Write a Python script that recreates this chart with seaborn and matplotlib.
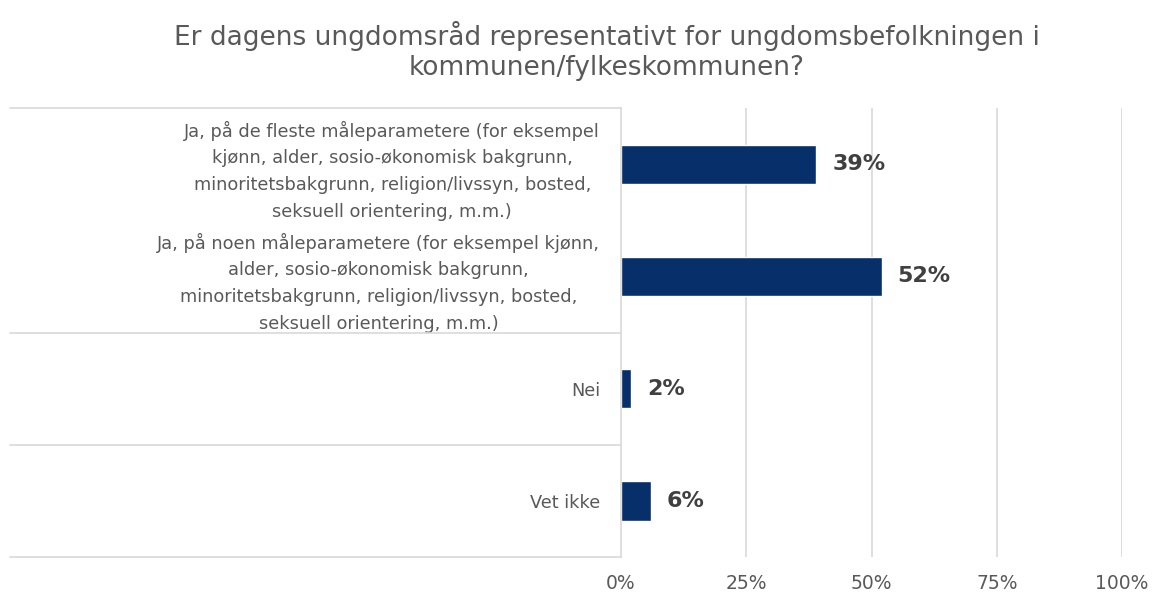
import matplotlib
matplotlib.use("Agg")
import matplotlib.pyplot as plt
import seaborn as sns
import pandas as pd

categories = [
    "Ja, på de fleste måleparametere (for eksempel\nkjønn, alder, sosio-økonomisk bakgrunn,\nminoritetsbakgrunn, religion/livssyn, bosted,\nseksuell orientering, m.m.)",
    "Ja, på noen måleparametere (for eksempel kjønn,\nalder, sosio-økonomisk bakgrunn,\nminoritetsbakgrunn, religion/livssyn, bosted,\nseksuell orientering, m.m.)",
    "Nei",
    "Vet ikke",
]
values = [39, 52, 2, 6]
tick_values = [0, 25, 50, 75, 100]
tick_labels = ["0%", "25%", "50%", "75%", "100%"]
title = "Er dagens ungdomsråd representativt for ungdomsbefolkningen i\nkommunen/fylkeskommunen?"

sns.set_theme(style="white")
plt.rcParams["font.family"] = ["DejaVu Sans"]

text_grey = "#595959"
line_grey = "#d9d9d9"
bar_blue = "#07306b"

df = pd.DataFrame({"kategori": categories, "andel": values})

fig = plt.figure(figsize=(11.56, 5.97), dpi=100)
ax = fig.add_axes([0.5372, 0.067, 0.4334, 0.752])

sns.barplot(data=df, x="andel", y="kategori", orient="h", color=bar_blue,
            saturation=1, width=0.35, ax=ax)

ax.set_xlim(0, 100)
ax.set_ylim(3.5, -0.5)
ax.set_xticks(tick_values)
ax.set_xticklabels(tick_labels, color=text_grey, fontsize=13.5)
ax.set_xlabel("")
ax.set_ylabel("")
ax.tick_params(axis="x", length=0, pad=12)
ax.tick_params(axis="y", length=0, pad=15)
for lbl in ax.get_yticklabels():
    lbl.set_color(text_grey)
    lbl.set_fontsize(12.8)
    lbl.set_multialignment("center")
    lbl.set_linespacing(1.62)

for sp in ["top", "right", "bottom"]:
    ax.spines[sp].set_visible(False)
ax.spines["left"].set_color(line_grey)
ax.spines["left"].set_linewidth(1.2)

for xv in tick_values[1:]:
    ax.axvline(xv, color=line_grey, lw=1.2, zorder=0)

# category separators running under the label column
for yb in [-0.5, 1.5, 2.5, 3.5]:
    ax.plot([-1.22, 0], [yb, yb], transform=ax.get_yaxis_transform(),
            color=line_grey, lw=1.2, clip_on=False)

for i, v in enumerate(values):
    ax.text(v + 3.2, i, f"{v}%", va="center", ha="left", fontsize=16,
            fontweight="bold", color="#404040")

fig.text(0.525, 0.915, title, ha="center", va="center", fontsize=19,
         color=text_grey, linespacing=1.2)

fig.savefig("out.png", dpi=100, facecolor="white")
